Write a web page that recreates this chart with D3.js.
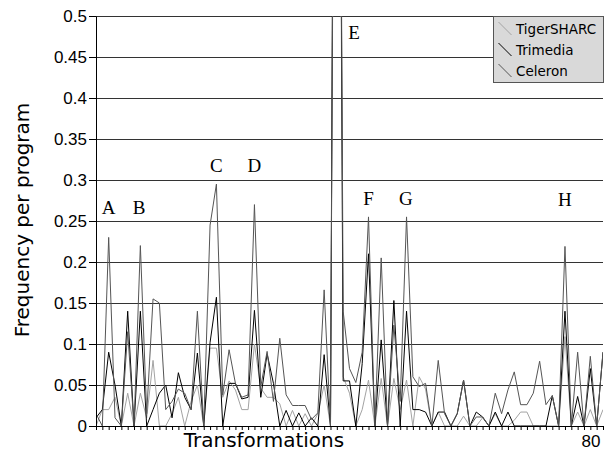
<!DOCTYPE html>
<html>
<head>
<meta charset="utf-8">
<script src="https://cdn.jsdelivr.net/npm/d3@7"></script>
<style>
  body { margin: 0; background: #fff; }
  svg { display: block; font-family: 'DejaVu Sans', sans-serif; }
</style>
</head>
<body>
<div id="chart"></div>
<script>
// series names, in legend order
const seriesNames = ['TigerSHARC', 'Trimedia', 'Celeron'];

// frequency per program, one value per transformation (0..80)
const tigersharc = [
  0.0, 0.02, 0.02, 0.035, 0.0, 0.04, 0.0, 0.04, 0.01, 0.08,
  0.0, 0.0, 0.015, 0.035, 0.0, 0.03, 0.05, 0.0, 0.095, 0.095,
  0.035, 0.055, 0.044, 0.02, 0.02, 0.1, 0.046, 0.035, 0.035, 0.027,
  0.0, 0.019, 0.0, 0.015, 0.0, 0.015, 0.05, 0.0, 1.5, 0.06,
  0.04, 0.0, 0.02, 0.056, 0.0, 0.058, 0.0, 0.058, 0.02, 0.056,
  0.0, 0.06, 0.045, 0.0, 0.017, 0.0, 0.0, 0.0, 0.012, 0.0,
  0.0, 0.01, 0.0, 0.015, 0.0, 0.0, 0.007, 0.017, 0.017, 0.0,
  0.0, 0.0, 0.0, 0.0, 0.109, 0.0, 0.017, 0.0, 0.02, 0.0,
  0.02
];
const trimedia = [
  0.01, 0.02, 0.09, 0.05, 0.0, 0.14, 0.0, 0.14, 0.0, 0.02,
  0.04, 0.05, 0.01, 0.065, 0.035, 0.02, 0.089, 0.0, 0.102, 0.157,
  0.0, 0.052, 0.052, 0.033, 0.035, 0.141, 0.035, 0.088, 0.052, 0.0,
  0.019, 0.0, 0.016, 0.0, 0.01, 0.0, 0.087, 0.0, 1.7, 0.055,
  0.055, 0.0, 0.076, 0.21, 0.0, 0.105, 0.0, 0.153, 0.0, 0.14,
  0.02, 0.02, 0.017, 0.0, 0.017, 0.017, 0.0, 0.015, 0.056, 0.0,
  0.017, 0.011, 0.0, 0.017, 0.0, 0.017, 0.0, 0.0, 0.0, 0.0,
  0.0, 0.0, 0.037, 0.0, 0.14, 0.0, 0.036, 0.0, 0.07, 0.0,
  0.09
];
const celeron = [
  0.015, 0.0, 0.23, 0.01, 0.0, 0.115, 0.0, 0.22, 0.015, 0.155,
  0.15, 0.02, 0.03, 0.045, 0.04, 0.02, 0.14, 0.0, 0.245, 0.295,
  0.038, 0.093, 0.052, 0.035, 0.038, 0.27, 0.048, 0.091, 0.03, 0.107,
  0.038, 0.025, 0.025, 0.025, 0.008, 0.016, 0.166, 0.0, 1.6, 0.14,
  0.07, 0.053, 0.09, 0.255, 0.0, 0.205, 0.0, 0.123, 0.03, 0.255,
  0.06, 0.048, 0.052, 0.0, 0.08, 0.015, 0.0, 0.015, 0.056, 0.0,
  0.011, 0.011, 0.0, 0.04, 0.015, 0.044, 0.066, 0.026, 0.026, 0.04,
  0.079, 0.026, 0.037, 0.0, 0.219, 0.0, 0.09, 0.0, 0.085, 0.0,
  0.09
];

// peak annotations
const peakLabels = ['A', 'B', 'C', 'D', 'E', 'F', 'G', 'H'];
const peakX = [2, 6.8, 19, 25, 40.7, 43, 48.9, 74];
const peakY = [0.267, 0.267, 0.318, 0.318, 0.48, 0.278, 0.278, 0.276];

const yTicks = d3.range(0, 0.5001, 0.05);

///////// Setup //////////
const margin = { top: 16, right: 5, bottom: 29, left: 96 };
const width = 608 - margin.left - margin.right;
const height = 455 - margin.top - margin.bottom;

const svg = d3
  .select('#chart')
  .append('svg')
  .attr('width', width + margin.left + margin.right)
  .attr('height', height + margin.top + margin.bottom);

const group = svg
  .append('g')
  .attr('transform', 'translate(' + margin.left + ',' + margin.top + ')');

const xScale = d3.scaleLinear().domain([0, 80]).range([0, width]);
const yScale = d3.scaleLinear().domain([0, 0.5]).range([height, 0]);
const colorScale = d3
  .scaleOrdinal()
  .domain(seriesNames)
  .range(['#a3a3a3', '#000000', '#555555']);

// grid lines
group
  .append('g')
  .selectAll('line')
  .data(yTicks.filter((d) => d > 0))
  .enter()
  .append('line')
  .attr('x1', 0)
  .attr('x2', width)
  .attr('y1', (d) => Math.round(yScale(d)) + 0.5)
  .attr('y2', (d) => Math.round(yScale(d)) + 0.5)
  .attr('stroke', '#333')
  .attr('stroke-width', 1.2);

// clip for the tall E peak
group
  .append('clipPath')
  .attr('id', 'clip')
  .append('rect')
  .attr('width', width)
  .attr('height', height + 1);

const allSeries = [tigersharc, trimedia, celeron];
const line = d3
  .line()
  .x((d, i) => xScale(i))
  .y((d) => yScale(d));

allSeries.forEach((values, i) => {
  group
    .append('path')
    .datum(values)
    .attr('clip-path', 'url(#clip)')
    .attr('fill', 'none')
    .attr('stroke', colorScale(seriesNames[i]))
    .attr('stroke-width', 1)
    .attr('stroke-linejoin', 'miter')
    .attr('d', line);
});

// axes
const yAxis = d3
  .axisLeft(yScale)
  .tickValues(yTicks)
  .tickSize(7)
  .tickPadding(2)
  .tickSizeOuter(0)
  .tickFormat((d) => String(+d.toFixed(2)));
const yAxisGroup = group.append('g').attr('class', 'y-axis').call(yAxis);
yAxisGroup.select('.domain').attr('stroke', '#000');
yAxisGroup.selectAll('text').attr('font-size', 17).attr('fill', '#000');

const xAxis = d3
  .axisBottom(xScale)
  .tickValues(d3.range(0, 81))
  .tickSize(4)
  .tickPadding(5)
  .tickSizeOuter(0)
  .tickFormat((d) => (d === 80 ? '80' : ''));
const xAxisGroup = group
  .append('g')
  .attr('class', 'x-axis')
  .attr('transform', 'translate(0,' + height + ')')
  .call(xAxis);
xAxisGroup
  .selectAll('text')
  .attr('font-size', 17)
  .attr('fill', '#000')
  .attr('text-anchor', 'end')
  .attr('dx', -3);

// axis titles
svg
  .append('text')
  .attr('x', margin.left + xScale(26.5))
  .attr('y', 447)
  .attr('text-anchor', 'middle')
  .attr('font-size', 20)
  .text('Transformations');

svg
  .append('text')
  .attr('transform', 'translate(28.5,' + 220 + ') rotate(-90)')
  .attr('text-anchor', 'middle')
  .attr('font-size', 20)
  .text('Frequency per program');

// peak letters
group
  .selectAll('.peak-label')
  .data(peakLabels)
  .enter()
  .append('text')
  .attr('class', 'peak-label')
  .attr('x', (d, i) => xScale(peakX[i]))
  .attr('y', (d, i) => yScale(peakY[i]))
  .attr('text-anchor', 'middle')
  .attr('dominant-baseline', 'central')
  .attr('font-family', "'Liberation Serif', serif")
  .attr('font-size', 19)
  .text((d) => d);

// legend
const legend = svg.append('g').attr('transform', 'translate(493.5,16.5)');
legend
  .append('rect')
  .attr('width', 110)
  .attr('height', 66)
  .attr('fill', '#d9d9d9')
  .attr('stroke', '#555');

seriesNames.forEach((name, i) => {
  const cy = 12.5 + i * 21;
  legend
    .append('line')
    .attr('x1', 5)
    .attr('y1', cy - 7)
    .attr('x2', 18)
    .attr('y2', cy + 6)
    .attr('stroke', colorScale(name))
    .attr('stroke-width', 1);
  legend
    .append('text')
    .attr('x', 22.5)
    .attr('y', cy)
    .attr('dominant-baseline', 'central')
    .attr('font-size', 13.5)
    .text(name);
});
</script>
</body>
</html>
